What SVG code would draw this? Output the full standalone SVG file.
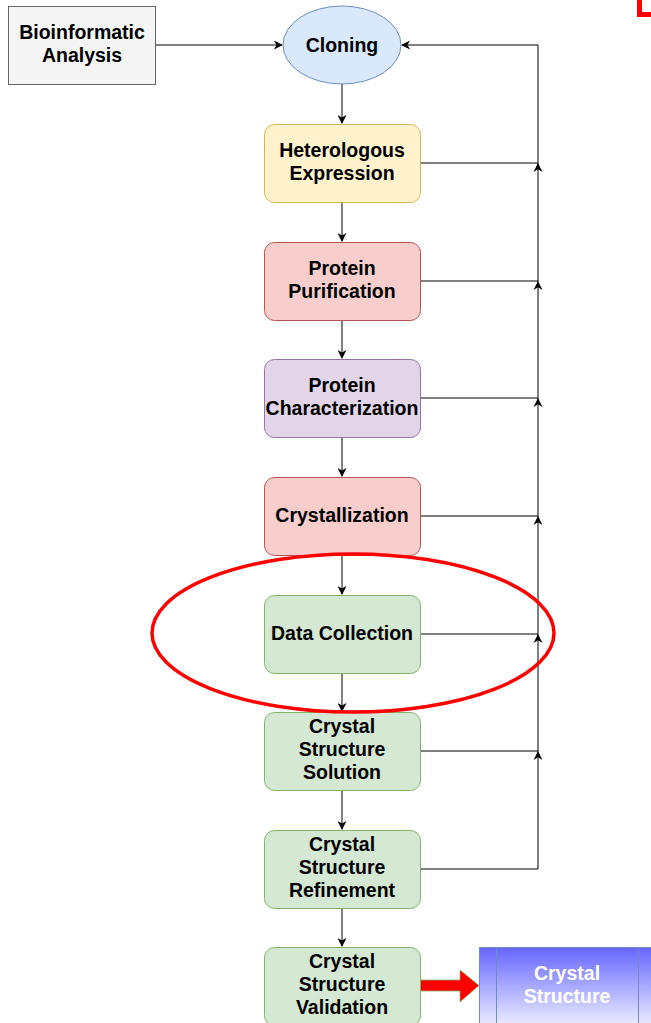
<svg xmlns="http://www.w3.org/2000/svg" width="651" height="1023" viewBox="0 0 651 1023">
  <defs>
    <style>
      .lbl { font-family: "Liberation Sans", Arial, sans-serif; font-weight: bold; font-size: 19.5px; fill: #000; text-anchor: middle; }
      .white { fill: #fff; }
      .edge { fill: none; stroke: #000; stroke-width: 1; }
      .node { stroke-width: 1; }
      .yellow { fill: #fff2cc; stroke: #d6b656; }
      .red { fill: #f8cecc; stroke: #b85450; }
      .purple { fill: #e1d5e7; stroke: #9673a6; }
      .green { fill: #d5e8d4; stroke: #82b366; }
    </style>
    <marker id="arr" viewBox="0 0 10 10" refX="9" refY="5" markerWidth="9" markerHeight="9" markerUnits="userSpaceOnUse" orient="auto">
      <path d="M0,0 L10,5 L0,10 L3,5 Z" fill="#000"/>
    </marker>
    <linearGradient id="blueGrad" x1="0" y1="0" x2="0" y2="1">
      <stop offset="0" stop-color="#6666ff"/>
      <stop offset="1" stop-color="#f0f0ff"/>
    </linearGradient>
    <path id="upHead" d="M0,0 L4.5,9 L0,6.3 L-4.5,9 Z" fill="#000"/>
  </defs>

  <!-- connectors -->
  <g id="connectors">
    <path class="edge" d="M156,45 H282" marker-end="url(#arr)"/>
    <path class="edge" d="M342,84 V123" marker-end="url(#arr)"/>
    <path class="edge" d="M342,202 V241" marker-end="url(#arr)"/>
    <path class="edge" d="M342,320 V358" marker-end="url(#arr)"/>
    <path class="edge" d="M342,437 V476" marker-end="url(#arr)"/>
    <path class="edge" d="M342,555 V594" marker-end="url(#arr)"/>
    <path class="edge" d="M342,673 V711" marker-end="url(#arr)"/>
    <path class="edge" d="M342,790 V829" marker-end="url(#arr)"/>
    <path class="edge" d="M342,908 V946" marker-end="url(#arr)"/>
    <!-- feedback loop to cloning -->
    <path class="edge" d="M420,869 H538 V45 H402" marker-end="url(#arr)"/>
    <path class="edge" d="M420,163 H538"/>
    <path class="edge" d="M420,281 H538"/>
    <path class="edge" d="M420,398 H538"/>
    <path class="edge" d="M420,516 H538"/>
    <path class="edge" d="M420,634 H538"/>
    <path class="edge" d="M420,751 H538"/>
    <use href="#upHead" x="538" y="163"/>
    <use href="#upHead" x="538" y="281"/>
    <use href="#upHead" x="538" y="398"/>
    <use href="#upHead" x="538" y="516"/>
    <use href="#upHead" x="538" y="634"/>
    <use href="#upHead" x="538" y="751"/>
    <!-- result arrow -->
    <path d="M420,980 H460 V970 L479,985.5 L460,1002 V991 H420 Z" fill="#ff0000" stroke="#82b366" stroke-width="0.8"/>
  </g>

  <g id="bioinformatic">
    <rect x="8.5" y="6.5" width="147" height="78" fill="#f5f5f5" stroke="#666666"/>
    <text class="lbl" x="82" y="39">Bioinformatic</text>
    <text class="lbl" x="82" y="62">Analysis</text>
  </g>

  <g id="cloning">
    <ellipse cx="342" cy="45" rx="59" ry="39" fill="#dae8fc" stroke="#6c8ebf"/>
    <text class="lbl" x="342" y="52">Cloning</text>
  </g>

  <g id="expression">
    <rect class="node yellow" x="264.5" y="124.5" width="156" height="78" rx="10"/>
    <text class="lbl" x="342" y="157">Heterologous</text>
    <text class="lbl" x="342" y="180">Expression</text>
  </g>

  <g id="purification">
    <rect class="node red" x="264.5" y="242.5" width="156" height="78" rx="10"/>
    <text class="lbl" x="342" y="275">Protein</text>
    <text class="lbl" x="342" y="298">Purification</text>
  </g>

  <g id="characterization">
    <rect class="node purple" x="264.5" y="359.5" width="156" height="78" rx="10"/>
    <text class="lbl" x="342" y="392">Protein</text>
    <text class="lbl" x="342" y="415">Characterization</text>
  </g>

  <g id="crystallization">
    <rect class="node red" x="264.5" y="477.5" width="156" height="78" rx="10"/>
    <text class="lbl" x="342" y="522">Crystallization</text>
  </g>

  <g id="data-collection">
    <rect class="node green" x="264.5" y="595.5" width="156" height="78" rx="10"/>
    <text class="lbl" x="342" y="640">Data Collection</text>
  </g>

  <g id="solution">
    <rect class="node green" x="264.5" y="712.5" width="156" height="78" rx="10"/>
    <text class="lbl" x="342" y="733">Crystal</text>
    <text class="lbl" x="342" y="756">Structure</text>
    <text class="lbl" x="342" y="779">Solution</text>
  </g>

  <g id="refinement">
    <rect class="node green" x="264.5" y="830.5" width="156" height="78" rx="10"/>
    <text class="lbl" x="342" y="851">Crystal</text>
    <text class="lbl" x="342" y="874">Structure</text>
    <text class="lbl" x="342" y="897">Refinement</text>
  </g>

  <g id="validation">
    <rect class="node green" x="264.5" y="947.5" width="156" height="78" rx="10"/>
    <text class="lbl" x="342" y="968">Crystal</text>
    <text class="lbl" x="342" y="991">Structure</text>
    <text class="lbl" x="342" y="1014">Validation</text>
  </g>

  <g id="crystal-structure">
    <rect x="479.5" y="947.5" width="176" height="80" fill="url(#blueGrad)" stroke="#6c8ebf"/>
    <line x1="496.5" y1="947.5" x2="496.5" y2="1027" stroke="#6c8ebf"/>
    <line x1="638.5" y1="947.5" x2="638.5" y2="1027" stroke="#6c8ebf"/>
    <text class="lbl white" x="567" y="980">Crystal</text>
    <text class="lbl white" x="567" y="1003">Structure</text>
  </g>

  <!-- highlight marks -->
  <g id="highlight">
    <ellipse cx="353" cy="633" rx="201" ry="79" fill="none" stroke="#ff0000" stroke-width="3.5"/>
    <path d="M639.5,0 V14.5 H651" fill="none" stroke="#ff0000" stroke-width="5"/>
  </g>
</svg>
